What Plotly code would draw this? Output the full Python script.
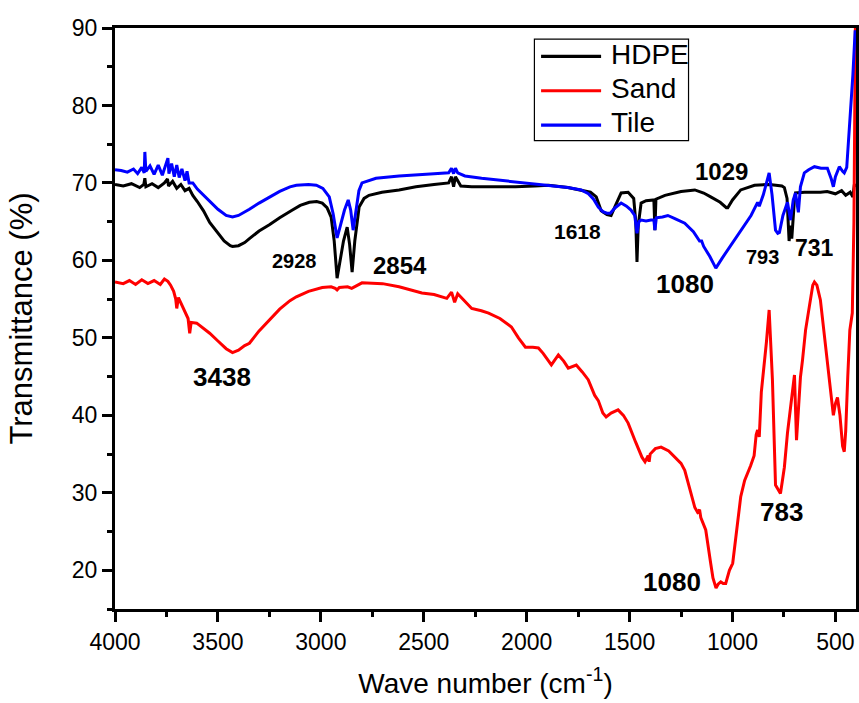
import plotly.graph_objects as go

# ---------------- data ----------------
hdpe_wn = [4000, 3960, 3920, 3880, 3860, 3855, 3850, 3820, 3790, 3760, 3745, 3740, 3720, 3700,
           3680, 3660, 3640, 3622, 3600, 3570, 3540, 3500, 3470, 3440, 3429, 3400, 3370, 3347,
           3300, 3250, 3200, 3138, 3100, 3056, 3020, 2993, 2970, 2950, 2935, 2921, 2910, 2890,
           2872, 2860, 2848, 2835, 2814, 2790, 2766, 2703, 2620, 2538, 2450, 2379, 2365, 2355,
           2346, 2335, 2320, 2267, 2150, 2054, 1960, 1894, 1800, 1735, 1690, 1662, 1638, 1610,
           1590, 1570, 1541, 1507, 1480, 1470, 1464, 1458, 1444, 1420, 1396, 1382, 1377, 1372,
           1328, 1250, 1183, 1140, 1106, 1060, 1030, 1023, 1000, 960, 893, 820, 760, 748, 735,
           725, 718, 712, 700, 694, 650, 600, 573, 540, 500, 470, 450, 428, 415, 408, 400]
hdpe_t = [69.8, 69.6, 69.9, 69.4, 69.8, 70.6, 69.5, 69.9, 69.4, 70.0, 70.5, 69.6, 70.2, 69.3,
          69.8, 69.0, 69.3, 68.4, 67.6, 66.4, 64.9, 63.5, 62.5, 61.9, 61.8, 61.9, 62.3, 62.8,
          63.8, 64.6, 65.5, 66.5, 67.1, 67.5, 67.6, 67.4, 66.8, 65.6, 62.5, 57.7, 59.5, 62.5,
          64.3, 62.0, 58.5, 62.5, 66.9, 68.0, 68.4, 68.8, 69.1, 69.5, 69.8, 70.0, 70.8, 69.5,
          70.8, 70.2, 69.6, 69.5, 69.5, 69.5, 69.6, 69.7, 69.4, 69.1, 68.8, 68.2, 66.4, 65.9,
          65.8, 67.0, 68.7, 68.8, 68.0, 65.0, 59.8, 64.5, 67.4, 67.7, 67.8, 67.8, 63.9, 67.9,
          68.4, 68.9, 69.1, 68.7, 68.2, 67.5, 66.8, 66.8, 67.8, 69.1, 69.7, 69.8, 69.6, 69.4, 68.0,
          62.5, 64.5, 62.8, 67.5, 68.7, 68.8, 68.8, 68.8, 68.9, 68.6, 69.0, 68.4, 68.8, 68.2, 69.8, 69.5]

sand_wn = [4000, 3960, 3930, 3900, 3870, 3840, 3810, 3780, 3760, 3743, 3730, 3715, 3705, 3700,
           3692, 3680, 3660, 3645, 3637, 3630, 3603, 3570, 3540, 3500, 3460, 3429, 3400, 3370,
           3347, 3300, 3250, 3200, 3150, 3119, 3060, 2993, 2950, 2930, 2921, 2910, 2870, 2850,
           2800, 2700, 2620, 2509, 2450, 2388, 2365, 2350, 2335, 2300, 2267, 2220, 2185, 2130,
           2074, 2040, 2006, 1970, 1943, 1920, 1880, 1846, 1820, 1798, 1759, 1730, 1701, 1670,
           1652, 1630, 1614, 1590, 1556, 1530, 1507, 1470, 1440, 1425, 1410, 1405, 1400, 1375,
           1347, 1310, 1280, 1250, 1232, 1210, 1183, 1170, 1160, 1154, 1130, 1106, 1095, 1080,
           1070, 1057, 1045, 1033, 1015, 999, 980, 960, 941, 925, 912, 895, 885, 878, 870, 860,
           850, 835, 822, 812, 806, 791, 780, 767, 758, 748, 733, 715, 699, 689, 680, 670, 660,
           645, 627, 610, 602, 590, 573, 555, 539, 525, 510, 500, 490, 478, 465, 457, 450, 440,
           430, 418, 410, 403]
sand_t = [57.2, 57.0, 57.4, 56.9, 57.5, 57.0, 57.4, 56.9, 57.6, 57.3, 56.8, 56.0, 55.0, 53.8,
          55.2, 54.5, 53.3, 52.5, 50.6, 52.0, 51.9, 51.2, 50.6, 49.6, 48.6, 48.1, 48.4, 49.0,
          49.3, 50.9, 52.3, 53.7, 54.8, 55.3, 56.0, 56.5, 56.6, 56.4, 56.2, 56.5, 56.6, 56.4,
          57.1, 57.0, 56.6, 55.8, 55.6, 55.1, 55.9, 54.6, 55.7, 54.7, 53.8, 53.5, 53.2, 52.5,
          51.4, 50.0, 48.8, 48.8, 48.7, 48.0, 46.5, 47.8, 47.0, 46.1, 46.5, 45.6, 44.6, 42.6,
          41.9, 40.3, 39.8, 40.3, 40.7, 40.0, 39.0, 36.5, 34.6, 34.0, 34.8, 34.0, 35.0, 35.7,
          35.9, 35.4, 34.6, 33.8, 32.9, 30.8, 28.1, 27.5, 27.8, 26.8, 25.2, 20.9, 19.0, 17.7,
          18.2, 18.5, 18.3, 18.3, 20.0, 20.9, 25.0, 29.5, 31.6, 32.6, 33.5, 34.8, 37.5, 38.1, 37.2, 43.0,
          45.5, 49.5, 53.6, 47.0, 44.6, 31.0, 30.4, 29.9, 31.5, 33.3, 37.7, 41.5, 45.2, 36.8, 41.0,
          44.9, 47.1, 51.0, 54.0, 56.8, 57.2, 56.8, 54.9, 50.5, 46.7, 43.0, 40.0, 41.5, 42.3, 40.0,
          36.0, 35.3, 38.0, 45.0, 51.0, 53.2, 65.0, 90.0]

tile_wn = [4000, 3970, 3940, 3910, 3890, 3870, 3858, 3855, 3850, 3830, 3810, 3790, 3770, 3750,
           3743, 3738, 3725, 3712, 3700, 3688, 3675, 3660, 3650, 3640, 3622, 3600, 3570, 3540,
           3500, 3460, 3429, 3400, 3370, 3347, 3300, 3250, 3200, 3150, 3119, 3060, 3022, 2990,
           2959, 2940, 2921, 2905, 2885, 2867, 2855, 2843, 2830, 2815, 2800, 2732, 2620, 2538,
           2450, 2379, 2365, 2355, 2346, 2335, 2300, 2219, 2150, 2054, 1960, 1894, 1800, 1735,
           1700, 1675, 1652, 1630, 1610, 1594, 1570, 1541, 1515, 1493, 1475, 1464, 1455, 1444,
           1420, 1396, 1382, 1377, 1370, 1340, 1314, 1280, 1232, 1190, 1160, 1150, 1140, 1110,
           1081, 1050, 1020, 989, 950, 910, 878, 870, 850, 822, 808, 795, 791, 780, 772, 755, 733,
           718, 705, 694, 680, 670, 651, 630, 602, 570, 539, 520, 510, 500, 481, 465, 457, 445,
           428, 415, 404]
tile_t = [71.7, 71.6, 71.4, 71.8, 71.2, 72.0, 71.3, 74.0, 71.5, 72.2, 71.1, 72.3, 71.0, 72.6,
          73.2, 71.2, 72.5, 70.8, 72.3, 70.7, 71.8, 70.3, 71.5, 70.0, 70.0, 69.2, 68.4, 67.7,
          66.6, 65.8, 65.6, 65.8, 66.2, 66.6, 67.4, 68.2, 68.9, 69.5, 69.7, 69.8, 69.7, 69.3,
          68.2, 66.0, 62.9, 64.5, 66.5, 67.8, 66.5, 63.9, 66.5, 69.0, 70.0, 70.6, 70.9, 71.0,
          71.2, 71.3, 71.9, 71.2, 71.9, 71.3, 70.9, 70.6, 70.4, 70.1, 69.9, 69.7, 69.4, 69.1,
          68.6, 67.9, 66.9, 66.3, 66.1, 66.1, 66.8, 67.4, 67.0, 66.5, 65.8, 63.5, 65.0, 65.2,
          65.1, 65.2, 65.2, 63.9, 65.5, 65.6, 65.8, 65.4, 64.8, 63.7, 62.5, 62.5, 61.8, 60.5,
          59.0, 60.3, 61.5, 62.6, 64.2, 65.8, 67.5, 67.0, 68.5, 71.3, 68.5, 64.5, 63.9, 63.5,
          63.6, 65.8, 67.5, 65.2, 67.8, 68.7, 66.2, 69.5, 71.3, 71.7, 72.1, 71.9, 71.9, 70.5,
          69.5, 70.8, 72.1, 71.5, 71.3, 72.0, 78.1, 84.0, 89.7]

series_names = ["HDPE", "Sand", "Tile"]
series_colors = ["#000000", "#ff0000", "#0000ff"]

peak_text = ["3438", "2928", "2854", "1618", "1029", "1080", "793", "731", "1080", "783"]
peak_x = [3482, 3129, 2616, 1754, 1052, 1232, 854, 602, 1294, 762]
peak_y = [44.9, 59.9, 59.4, 63.7, 71.5, 56.9, 60.4, 61.6, 18.5, 27.5]
peak_size = [26, 20, 24, 21, 24, 26, 20, 23, 26, 26]

x_ticks = [4000, 3500, 3000, 2500, 2000, 1500, 1000, 500]
y_ticks = [20, 30, 40, 50, 60, 70, 80, 90]

FONT = "Liberation Sans, Arial, sans-serif"

fig = go.Figure()
for wn, t, name, col in [(hdpe_wn, hdpe_t, series_names[0], series_colors[0]),
                         (sand_wn, sand_t, series_names[1], series_colors[1]),
                         (tile_wn, tile_t, series_names[2], series_colors[2])]:
    fig.add_trace(go.Scatter(x=wn, y=t, mode="lines", name=name,
                             line=dict(color=col, width=3), showlegend=False))

# peak labels
for txt, xx, yy, sz in zip(peak_text, peak_x, peak_y, peak_size):
    fig.add_annotation(x=xx, y=yy, text=f"<b>{txt}</b>", showarrow=False,
                       xanchor="center", yanchor="middle",
                       font=dict(family=FONT, size=sz, color="black"))

# legend drawn by hand (box, line samples, labels) in paper coordinates
fig.add_shape(type="rect", xref="paper", yref="paper", x0=0.566, x1=0.774, y0=0.806, y1=0.981,
              line=dict(color="black", width=1.2), fillcolor="white", layer="above")
leg_rows = [0.951, 0.892, 0.833]
for name, col, yy in zip(series_names, series_colors, leg_rows):
    fig.add_shape(type="line", xref="paper", yref="paper", x0=0.575, x1=0.656, y0=yy, y1=yy,
                  line=dict(color=col, width=3.2), layer="above")
    fig.add_annotation(xref="paper", yref="paper", x=0.666, y=yy + 0.004, text=name,
                       showarrow=False, xanchor="left", yanchor="middle",
                       font=dict(family=FONT, size=28, color="black"))

fig.update_layout(
    width=859, height=703,
    margin=dict(l=115, r=0, t=28, b=94),
    plot_bgcolor="white", paper_bgcolor="white",
    showlegend=False,
    xaxis=dict(range=[4000, 400], tickmode="array", tickvals=x_ticks,
               ticktext=[str(v) for v in x_ticks],
               ticks="outside", ticklen=10, tickwidth=3, tickcolor="black",
               minor=dict(tickmode="linear", tick0=0, dtick=250, ticks="outside",
                          ticklen=5, tickwidth=3, tickcolor="black"),
               showline=True, linewidth=3, linecolor="black", mirror=True,
               showgrid=False, zeroline=False,
               tickfont=dict(family=FONT, size=23, color="black"),
               title=dict(text="Wave number (cm<sup>-1</sup>)",
                          font=dict(family=FONT, size=28, color="black"), standoff=20)),
    yaxis=dict(range=[15, 90], tickmode="array", tickvals=y_ticks,
               ticktext=[str(v) for v in y_ticks],
               ticks="outside", ticklen=10, tickwidth=3, tickcolor="black",
               minor=dict(tickmode="linear", tick0=0, dtick=5, ticks="outside",
                          ticklen=5, tickwidth=3, tickcolor="black"),
               showline=True, linewidth=3, linecolor="black", mirror=True,
               showgrid=False, zeroline=False,
               tickfont=dict(family=FONT, size=23, color="black"),
               title=dict(text="Transmittance (%)",
                          font=dict(family=FONT, size=31, color="black"), standoff=30)),
)

fig.write_html("out.html")
